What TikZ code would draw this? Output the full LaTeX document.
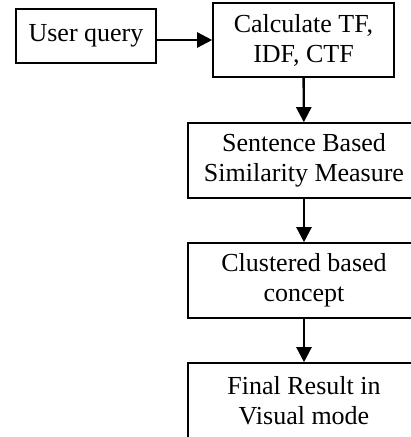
\documentclass[tikz,border=0pt]{standalone}
\usepackage{fontspec}
\setmainfont{Liberation Serif}
\usetikzlibrary{arrows.meta,positioning}
\tikzset{
  procbox/.style ={draw,line width=1.6pt,align=center,font=\fontsize{26}{30}\selectfont,
                   minimum width=232pt,minimum height=75pt,inner sep=2pt},
  flow/.style    ={-{Triangle[length=15pt,width=15pt]},line width=2.4pt},
}

\begin{document}
\begin{tikzpicture}[x=1pt,y=-1pt]
\clip (0,0) rectangle (411,437);
% ---- query and term weights ----
\node[procbox,minimum width=140pt,minimum height=54pt] (query) at (86,36) {User query};
\node[procbox,minimum width=181pt,minimum height=74pt] (calc) at (303.5,40) {Calculate TF,\\IDF, CTF};
% ---- processing chain ----
\node[procbox] (simil)  at (304,160.5) {Sentence Based\\Similarity Measure};
\node[procbox] (clust)  at (304,280.5) {Clustered based\\concept};
\node[procbox] (result) at (304,400.5) {Final Result in\\Visual mode};
% ---- flows ----
\draw[flow] (query.east |- calc.west) -- (calc.west);
\draw[flow] (calc) -- (simil);
\foreach \s/\d in {simil/clust,clust/result} \draw[flow] (\s) -- (\d);
\end{tikzpicture}
\end{document}
